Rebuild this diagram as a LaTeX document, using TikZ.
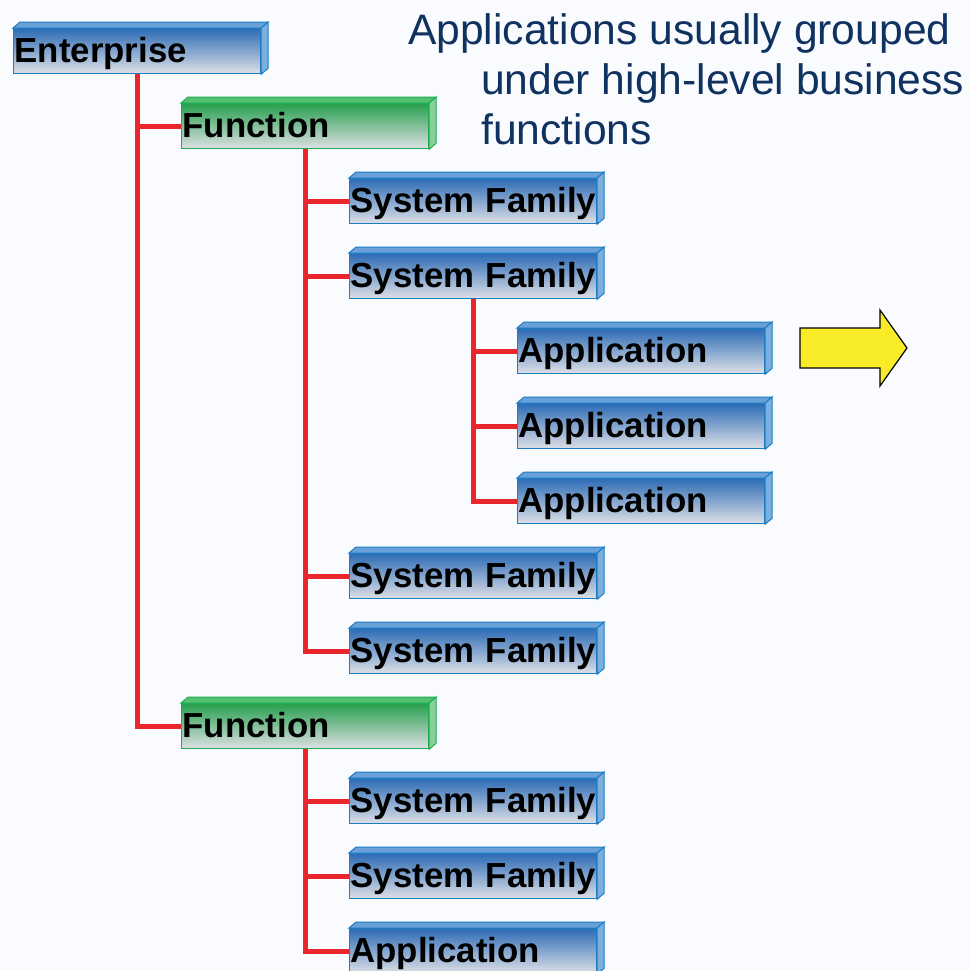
\documentclass[tikz,border=0pt]{standalone}
\usepackage{fontspec}
\setmainfont{Liberation Sans}
\usepackage{xcolor}
\usepackage{tikz}

\definecolor{pagebg}{RGB}{250,251,254}
\definecolor{famedge}{RGB}{28,125,195}
\definecolor{famtop}{RGB}{45,108,182}
\definecolor{famlid}{RGB}{105,160,215}
\definecolor{famside}{RGB}{125,175,222}
\definecolor{funcedge}{RGB}{30,172,82}
\definecolor{functop}{RGB}{40,160,78}
\definecolor{funclid}{RGB}{85,192,115}
\definecolor{funcside}{RGB}{135,208,152}
\definecolor{blockgray}{RGB}{222,224,230}
\definecolor{linkred}{RGB}{232,38,44}
\definecolor{notenavy}{RGB}{16,50,96}
\definecolor{arrowyellow}{RGB}{248,236,40}

\tikzset{
  block/.style={rectangle, draw=#1edge, line width=1.2pt, top color=#1top, bottom color=blockgray,
    minimum width=247pt, minimum height=45pt, text width=245pt, align=left,
    inner xsep=1pt, inner ysep=0pt, text height=28pt, text depth=6pt, anchor=north west,
    font=\bfseries\fontsize{34.8}{40}\selectfont},
  lid/.style={fill=#1lid, draw=#1edge, line width=1pt},
  side/.style={fill=#1side, draw=#1edge, line width=1pt},
  link/.style={draw=linkred, line width=5pt},
  note/.style={anchor=north west, align=left, inner sep=0pt, text=notenavy,
    font=\fontsize{42.6}{50}\selectfont}
}

\begin{document}
\begin{tikzpicture}[x=1pt, y=-1pt]
  \fill[pagebg] (0,0) rectangle (971,970);
  \useasboundingbox (0,0) rectangle (971,970);
  \foreach \nm/\c/\r/\k/\txt in {ent/0/0/fam/Enterprise, fun1/1/1/func/Function,
      sf1/2/2/fam/System Family, sf2/2/3/fam/System Family,
      app1/3/4/fam/Application, app2/3/5/fam/Application, app3/3/6/fam/Application,
      sf3/2/7/fam/System Family, sf4/2/8/fam/System Family,
      fun2/1/9/func/Function, sf5/2/10/fam/System Family, sf6/2/11/fam/System Family,
      app4/2/12/fam/Application} {
    \node[block=\k] (\nm) at ({13+168*\c}, {28+75*\r}) {\mbox{\txt}};
    \filldraw[lid=\k] (\nm.north west) -- ++(7,-6) -- ([shift={(7,-6)}]\nm.north east) -- (\nm.north east) -- cycle;
    \filldraw[side=\k] (\nm.north east) -- ++(7,-6) -- ([shift={(7,-6)}]\nm.south east) -- (\nm.south east) -- cycle;
  }
  \foreach \p/\ch in {ent/fun1, ent/fun2, fun1/sf1, fun1/sf2, fun1/sf3, fun1/sf4,
      sf2/app1, sf2/app2, sf2/app3, fun2/sf5, fun2/sf6, fun2/app4}
    \draw[link] (\p.south) |- (\ch.west);
  \filldraw[fill=arrowyellow, draw=black, line width=1.2pt]
    (800,328) -- (880,328) -- (880,310) -- (907,348) -- (880,386) -- (880,368) -- (800,368) -- cycle;
  \node[note] (note) at (408,13) {Applications usually grouped\\\hspace*{73pt}under high-level business\\\hspace*{73pt}functions};
\end{tikzpicture}
\end{document}
